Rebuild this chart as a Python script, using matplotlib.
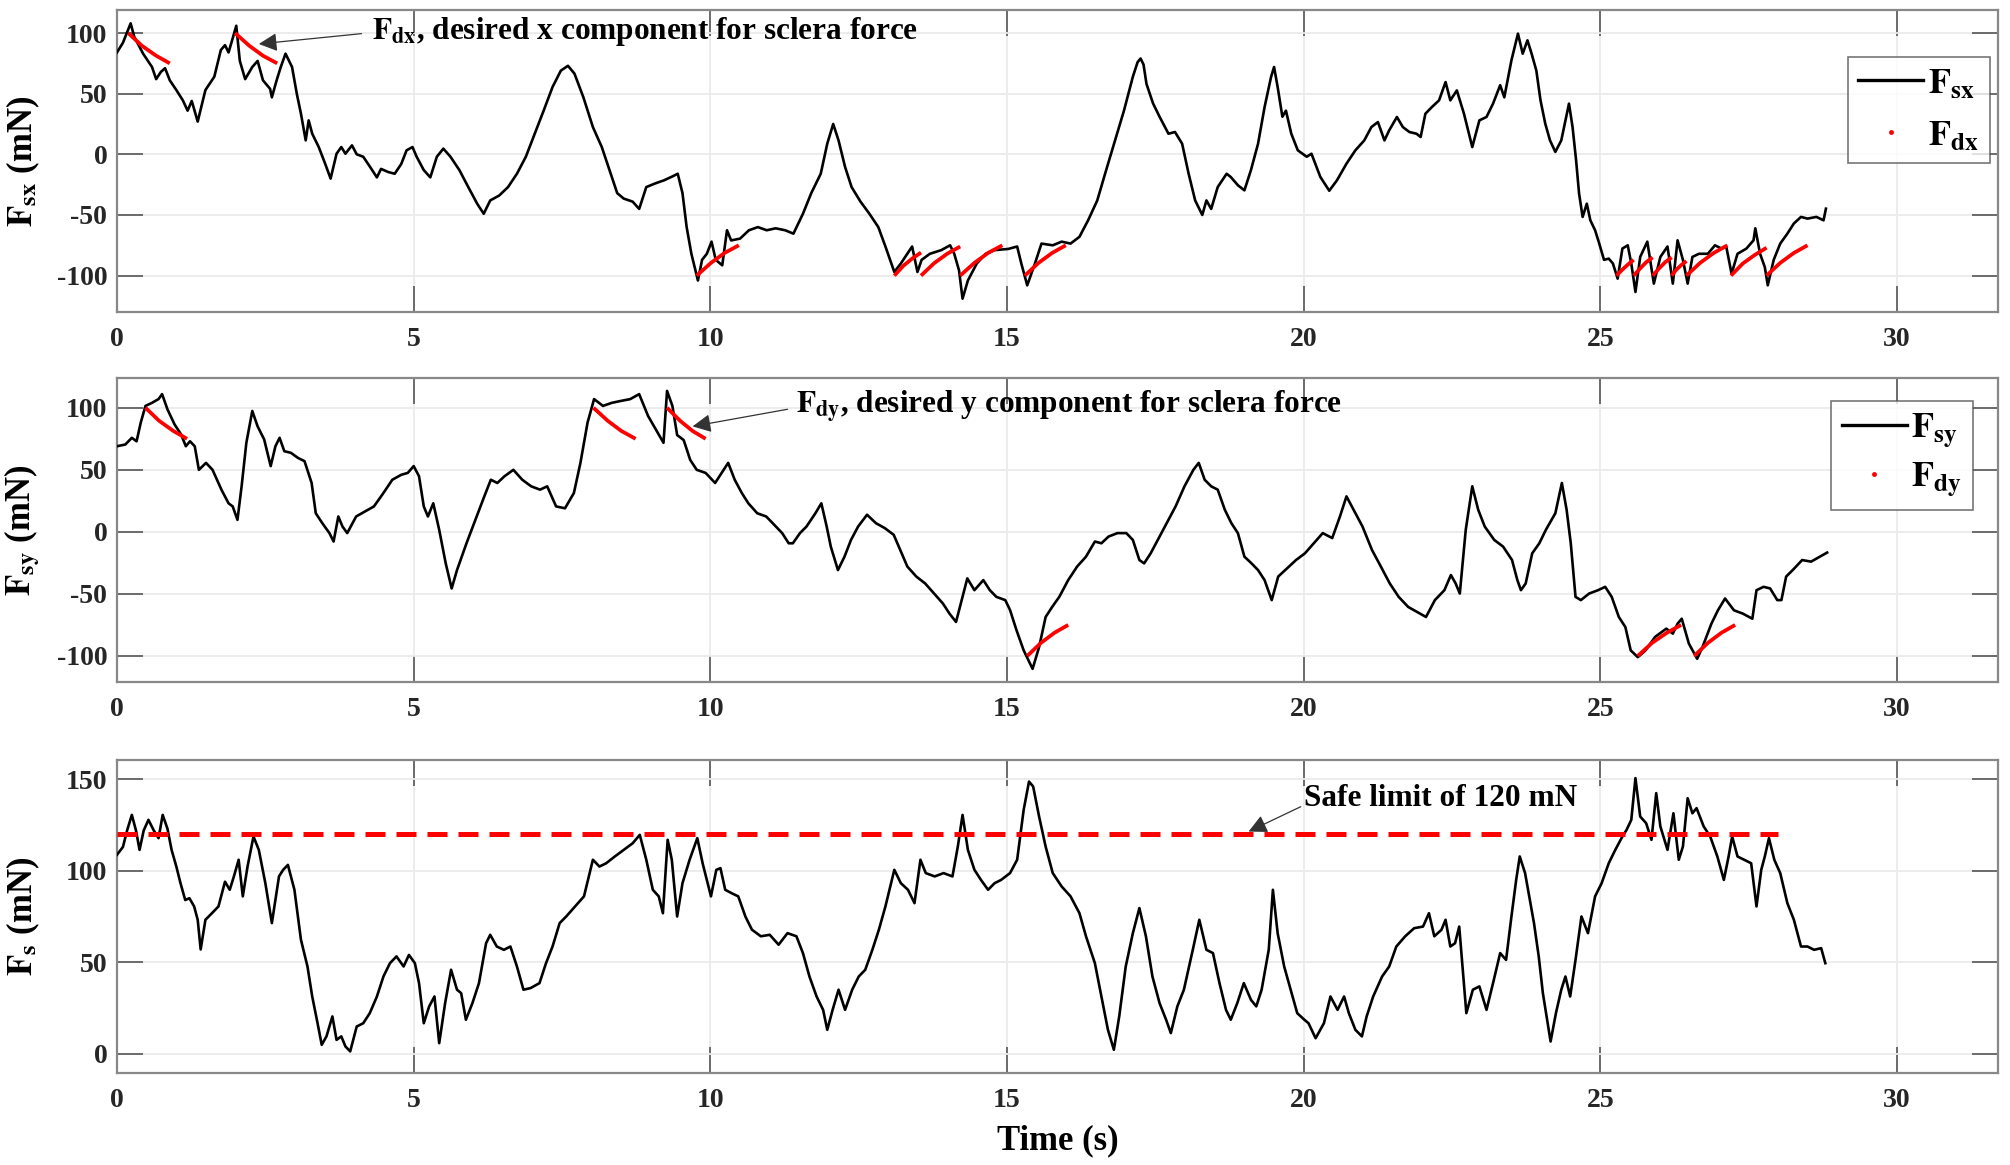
import matplotlib
matplotlib.use("Agg")
import matplotlib.pyplot as plt
from matplotlib.lines import Line2D
from matplotlib.ticker import FuncFormatter

plt.rcParams['font.family'] = ['Liberation Serif', 'DejaVu Serif']
plt.rcParams['font.weight'] = 'bold'
plt.rcParams['mathtext.fontset'] = 'stix'

# ---------------- data ----------------
t_sx = [0.0, 0.10, 0.23, 0.29, 0.44, 0.59, 0.66, 0.74, 0.81, 0.89, 1.0, 1.11, 1.19, 1.26, 1.36, 1.49, 1.64, 1.75,
        1.82, 1.88, 1.94, 2.01, 2.07, 2.16, 2.28, 2.37, 2.46, 2.58, 2.61, 2.69, 2.76, 2.84, 2.95, 3.03, 3.1, 3.18,
        3.23, 3.29, 3.4, 3.51, 3.6, 3.7, 3.78, 3.85, 3.96, 4.04, 4.15, 4.26, 4.38, 4.45, 4.57, 4.68, 4.79, 4.88,
        4.98, 5.05, 5.17, 5.28, 5.39, 5.5, 5.62, 5.77, 5.92, 6.07, 6.18, 6.29, 6.44, 6.59, 6.74, 6.89, 7.04, 7.19,
        7.34, 7.48, 7.6, 7.71, 7.86, 8.02, 8.17, 8.32, 8.43, 8.54, 8.69, 8.8, 8.92, 9.07, 9.22, 9.37, 9.45, 9.53,
        9.6, 9.68, 9.79, 9.86, 9.94, 10.02, 10.09, 10.2, 10.28, 10.35, 10.5, 10.65, 10.8, 10.95, 11.1, 11.26, 11.4,
        11.56, 11.7, 11.86, 11.97, 12.07, 12.16, 12.27, 12.38, 12.53, 12.68, 12.83, 12.95, 13.1, 13.21, 13.4,
        13.49, 13.56, 13.7, 13.89, 14.04, 14.11, 14.19, 14.25, 14.34, 14.49, 14.64, 14.79, 15.02, 15.17, 15.24,
        15.34, 15.47, 15.58, 15.77, 15.92, 16.07, 16.22, 16.37, 16.52, 16.67, 16.82, 16.97, 17.12, 17.2, 17.25,
        17.3, 17.35, 17.46, 17.57, 17.72, 17.83, 17.95, 18.06, 18.17, 18.29, 18.36, 18.44, 18.55, 18.7, 18.77,
        18.89, 19.0, 19.11, 19.23, 19.34, 19.45, 19.5, 19.56, 19.64, 19.7, 19.79, 19.9, 20.05, 20.13, 20.28,
        20.43, 20.56, 20.72, 20.87, 21.02, 21.14, 21.25, 21.36, 21.44, 21.57, 21.67, 21.78, 21.9, 21.97, 22.05,
        22.16, 22.28, 22.39, 22.47, 22.58, 22.7, 22.84, 22.96, 23.08, 23.19, 23.31, 23.38, 23.5, 23.61, 23.69,
        23.77, 23.84, 23.92, 23.99, 24.07, 24.15, 24.24, 24.34, 24.41, 24.47, 24.53, 24.59, 24.64, 24.7, 24.77,
        24.83, 24.91, 24.98, 25.06, 25.14, 25.21, 25.29, 25.37, 25.46, 25.52, 25.59, 25.67, 25.79, 25.9, 26.01,
        26.13, 26.22, 26.3, 26.39, 26.47, 26.55, 26.66, 26.81, 26.93, 27.04, 27.12, 27.21, 27.31, 27.46, 27.58,
        27.61, 27.69, 27.77, 27.82, 27.92, 28.03, 28.15, 28.26, 28.38, 28.49, 28.64, 28.76, 28.8]
f_sx = [84, 92, 108, 97, 83, 72, 62, 68, 71, 61, 53, 44.5, 36, 44, 27, 53, 64, 86,
        90, 84, 94, 106, 77, 62, 72, 77, 61, 54, 47, 61, 72, 83, 72, 50, 33.5, 11.5,
        28, 17, 6, -8, -20, 0.5, 6, 0.5, 7.4, 0, -2, -10, -19, -12, -14.6, -16, -8, 3.3,
        6, -2, -13, -19, -2, 4.7, -2, -13, -27, -40.7, -49, -38, -34, -27, -16, -2, 17, 36,
        55.5, 69, 73, 66.5, 47, 22.5, 6, -16, -32, -36.5, -39, -45, -27, -24, -21.4, -18, -16, -32,
        -60, -82, -104, -87, -82, -72, -87, -91.5, -62.6, -71, -69.5, -62.6, -60, -62.6, -61, -62.6, -65.4,
        -49, -32, -16, 8.8, 25, 11.5, -10.4, -27, -39, -49, -60, -76, -97, -90, -76,
        -97, -87, -82, -79, -75, -82, -95.6, -119, -104, -90, -82, -79, -78, -76, -90,
        -108, -90, -73.6, -75, -72, -73.6, -68, -54, -38, -13, 11.5, 36, 64, 76, 79,
        74, 58, 42, 31, 17, 18.4, 8.8, -16, -38, -50, -38, -45, -27, -16, -18.7,
        -25.5, -29.7, -13, 8.8, 39, 64, 72, 55.5, 31, 36, 17, 3.3, -2, 0.5, -18.7,
        -30, -21.4, -7.7, 3.3, 11.5, 22.5, 26.6, 11.5, 19.8, 30.8, 22.5, 18.4, 17, 14.3, 33.5,
        39, 44.5, 59.6, 44.5, 52.7, 33.5, 6, 28, 30.8, 41.8, 57, 47, 77.5, 99.5, 83,
        94, 83, 69, 44.5, 25.3, 11.5, 2, 11.5, 28, 41.8, 22.5, -5, -32.4, -51.6, -40.7,
        -54.4, -62.6, -73.6, -87, -86, -90, -102.5, -77.7, -75, -90, -113.5, -84.6, -72, -106.6, -84.6,
        -76, -106.6, -70.9, -87, -106.6, -84.6, -82, -82, -75, -77.7, -76, -98.4, -82, -77.7, -70.9,
        -61, -82, -93, -108, -87, -73.6, -65.4, -57, -51.6, -53, -51.6, -54.4, -44.8]

t_sy = [0, 0.14, 0.25, 0.33, 0.4, 0.48, 0.59, 0.7, 0.76, 0.85, 0.97, 1.08, 1.16, 1.23, 1.31, 1.38, 1.5, 1.61,
        1.76, 1.88, 1.95, 2.03, 2.1, 2.18, 2.28, 2.37, 2.48, 2.59, 2.67, 2.74, 2.82, 2.93, 3.05, 3.16, 3.28,
        3.35, 3.46, 3.58, 3.65, 3.73, 3.8, 3.88, 4.03, 4.18, 4.33, 4.49, 4.64, 4.79, 4.9, 5.0, 5.09, 5.17,
        5.24, 5.33, 5.43, 5.54, 5.64, 5.73, 5.89, 6.04, 6.19, 6.3, 6.41, 6.53, 6.68, 6.83, 6.98, 7.13, 7.25,
        7.4, 7.55, 7.7, 7.81, 7.93, 8.04, 8.19, 8.34, 8.49, 8.65, 8.8, 8.95, 9.1, 9.21, 9.27, 9.36, 9.44,
        9.55, 9.66, 9.77, 9.92, 10.08, 10.19, 10.3, 10.41, 10.53, 10.64, 10.79, 10.94, 11.05, 11.21, 11.32,
        11.39, 11.51, 11.62, 11.77, 11.87, 11.96, 12.03, 12.15, 12.26, 12.37, 12.49, 12.64, 12.79, 12.94,
        13.09, 13.2, 13.32, 13.47, 13.62, 13.77, 13.92, 14.03, 14.14, 14.22, 14.33, 14.45, 14.6, 14.71,
        14.82, 14.97, 15.05, 15.16, 15.28, 15.43, 15.54, 15.65, 15.76, 15.88, 16.03, 16.18, 16.33, 16.48,
        16.59, 16.71, 16.86, 17.01, 17.12, 17.23, 17.31, 17.42, 17.54, 17.69, 17.84, 17.99, 18.14, 18.23,
        18.33, 18.44, 18.55, 18.67, 18.78, 18.89, 19.0, 19.12, 19.23, 19.34, 19.46, 19.57, 19.72, 19.87,
        20.02, 20.17, 20.32, 20.48, 20.61, 20.72, 20.84, 20.99, 21.15, 21.3, 21.45, 21.6, 21.76, 21.91,
        22.06, 22.21, 22.37, 22.48, 22.56, 22.63, 22.73, 22.84, 22.94, 23.05, 23.21, 23.36, 23.51, 23.6,
        23.66, 23.74, 23.85, 23.97, 24.08, 24.24, 24.35, 24.43, 24.5, 24.58, 24.67, 24.81, 24.96, 25.08,
        25.19, 25.31, 25.42, 25.51, 25.63, 25.76, 25.92, 26.11, 26.22, 26.3, 26.37, 26.49, 26.63, 26.72,
        26.87, 26.98, 27.1, 27.25, 27.4, 27.56, 27.63, 27.75, 27.86, 27.98, 28.05, 28.13, 28.24, 28.4,
        28.55, 28.7, 28.82]
f_sy = [69, 70.4, 75.8, 73, 88, 101.5, 104, 107, 111, 98.8, 86.6, 78.5, 69, 73, 69, 50, 55.6, 50,
        34, 23, 20.5, 9.7, 36.7, 71.8, 97.4, 85, 74.5, 53, 69, 75.8, 65, 63.7, 59.6, 57, 39.4,
        15, 7, -1, -7.8, 12.4, 4.3, -1, 12.4, 16.5, 20.5, 31.3, 42, 46, 47.5, 53, 44.8, 20.5,
        12.4, 23, 1.6, -25.4, -45.6, -30.8, -9.2, 9.7, 28.6, 42, 39.4, 44.8, 50, 42, 36.7, 34, 36.7,
        20.5, 19, 31.3, 55.6, 88, 107, 101.5, 104, 105.5, 107, 111, 93.4, 81, 71.8, 113.6, 101.5, 78,
        74, 58, 50, 47.5, 39.4, 47.5, 55.6, 42, 31.3, 23, 15, 12.4, 7, -1, -9.2,
        -9.2, -1, 4.3, 15, 23, 4.3, -12, -30.8, -20, -6.5, 4.3, 13.8, 7, 3,
        -2.4, -14.6, -28, -36, -41.6, -49.7, -57.8, -65.9, -72.6, -57.8, -37.5, -47, -38.9, -47,
        -52.4, -55, -63, -79.4, -95.5, -110.4, -92.8, -68.6, -60.5, -52.4, -38.9, -28, -20, -7.8,
        -9.2, -3.8, -1, -1, -6.5, -22.7, -25.4, -17.3, -6.5, 7, 20.5, 36.7, 50, 55.6,
        42, 36.7, 34, 17.8, 7, -1, -20, -25.4, -30.8, -38.9, -55, -36, -29.4, -22.7,
        -17.3, -9.2, -1, -5, 12.4, 28.6, 17.8, 4.3, -14.6, -28, -41.6, -52.4, -60.5, -64.5,
        -68.6, -55, -47, -34.8, -41.6, -49.7, 1.6, 36.7, 17.8, 4.3, -6.5, -11.9, -22.7, -38.9,
        -47, -41.6, -17.3, -9.2, 1.6, 15, 39.4, 17.8, -9.2, -52.4, -55, -49.7, -47, -44.3,
        -52.4, -68.6, -76.7, -95.5, -101, -95.5, -84.7, -78, -82, -74, -70, -90, -102.3, -92.8,
        -74, -63.2, -53.7, -63.2, -65.9, -70, -47, -44.3, -45.6, -55, -55, -36, -30.8, -22.7,
        -24, -20, -16.7]

t_s = [0, 0.1, 0.17, 0.25, 0.32, 0.38, 0.45, 0.53, 0.62, 0.7, 0.77, 0.85, 0.92, 1.0, 1.07, 1.15, 1.22, 1.3,
       1.36, 1.41, 1.49, 1.6, 1.71, 1.82, 1.9, 1.97, 2.05, 2.12, 2.2, 2.3, 2.39, 2.5, 2.61, 2.73, 2.8, 2.88,
       2.99, 3.1, 3.21, 3.29, 3.38, 3.45, 3.53, 3.63, 3.7, 3.78, 3.85, 3.93, 4.04, 4.15, 4.26, 4.38, 4.49,
       4.6, 4.71, 4.83, 4.92, 5.02, 5.09, 5.17, 5.26, 5.35, 5.43, 5.53, 5.63, 5.73, 5.8, 5.88, 5.99, 6.1,
       6.22, 6.29, 6.4, 6.52, 6.63, 6.74, 6.85, 6.97, 7.12, 7.23, 7.34, 7.46, 7.57, 7.72, 7.87, 8.02, 8.13,
       8.24, 8.39, 8.54, 8.69, 8.81, 8.92, 9.03, 9.13, 9.2, 9.28, 9.35, 9.44, 9.53, 9.65, 9.78, 9.87, 10.01,
       10.1, 10.17, 10.25, 10.36, 10.47, 10.59, 10.7, 10.85, 11.0, 11.15, 11.3, 11.45, 11.56, 11.67, 11.79,
       11.9, 11.97, 12.06, 12.16, 12.27, 12.39, 12.5, 12.61, 12.73, 12.84, 12.95, 13.1, 13.21, 13.33, 13.44,
       13.54, 13.63, 13.78, 13.93, 14.08, 14.17, 14.25, 14.34, 14.45, 14.56, 14.68, 14.79, 14.9, 15.05,
       15.17, 15.28, 15.37, 15.44, 15.54, 15.65, 15.77, 15.92, 16.07, 16.22, 16.33, 16.48, 16.59, 16.7,
       16.8, 16.89, 17.0, 17.12, 17.23, 17.34, 17.45, 17.57, 17.68, 17.76, 17.87, 17.98, 18.13, 18.24,
       18.36, 18.47, 18.58, 18.69, 18.77, 18.88, 18.99, 19.11, 19.2, 19.29, 19.41, 19.48, 19.56, 19.67,
       19.78, 19.89, 20.01, 20.08, 20.2, 20.34, 20.45, 20.57, 20.68, 20.76, 20.87, 20.98, 21.06, 21.17,
       21.32, 21.44, 21.56, 21.71, 21.86, 22.01, 22.11, 22.2, 22.32, 22.39, 22.47, 22.55, 22.62, 22.74,
       22.85, 22.96, 23.08, 23.19, 23.31, 23.41, 23.5, 23.58, 23.64, 23.73, 23.8, 23.88, 23.96, 24.03,
       24.11, 24.16, 24.25, 24.34, 24.41, 24.49, 24.58, 24.68, 24.79, 24.91, 25.02, 25.14, 25.25, 25.37,
       25.44, 25.52, 25.59, 25.67, 25.77, 25.86, 25.94, 26.01, 26.13, 26.23, 26.32, 26.39, 26.47, 26.55,
       26.62, 26.74, 26.85, 26.97, 27.08, 27.16, 27.22, 27.31, 27.42, 27.54, 27.63, 27.71, 27.77, 27.84,
       27.93, 28.03, 28.15, 28.26, 28.38, 28.49, 28.6, 28.72, 28.79]
f_s = [108.7, 113, 122, 130.5, 122, 111.4, 122, 127.8, 122, 117.8, 130.5, 123, 111.4, 102.3, 93.2, 84, 85, 80.5,
       73.2, 57, 73.2, 76.8, 80.5, 94, 89.6, 96.9, 106, 86, 102.3, 118.7, 111.4, 93.2, 71.4, 96.9, 100.5, 103.2,
       89.6, 62.3, 47.7, 31.3, 16.7, 4.9, 9.5, 20.4, 7.6, 9.5, 4, 1.3, 14.9, 16.7, 22.2, 31.3, 42.2,
       49.5, 53.2, 47.7, 54, 49.5, 38.6, 16.7, 25.8, 31.3, 5.8, 27.7, 45.9, 35, 33.1, 18.6, 27.7, 38.6,
       60.4, 65, 58.6, 56.8, 58.6, 47.7, 35, 35.9, 38.6, 49.5, 58.6, 71.4, 75, 80.5, 86, 106, 102.3,
       104, 107.8, 111.4, 115, 119.6, 106, 89.6, 86, 76.8, 116.9, 106, 75, 93.2, 106, 117.8, 104, 86,
       100.5, 101.4, 89.6, 87.7, 86, 75, 67.8, 64.2, 65, 59.6, 65.9, 64.2, 55, 42.2, 31.3,
       24, 13.1, 24, 35, 24, 35, 42.2, 45.9, 56.8, 67.8, 80.5, 100.5, 93.2, 89.6, 82.3,
       106, 98.7, 96.9, 98.7, 96.9, 113.2, 130.5, 111.4, 100.5, 95, 89.6, 93.2, 95, 98.7,
       106, 133.3, 148.7, 146, 129.6, 113.2, 98.7, 91.4, 86, 76.8, 64.2, 49.5, 31.3, 13.1,
       2.2, 20.4, 47.7, 65.9, 79.6, 64.2, 42.2, 27.7, 18.6, 11.3, 25.9, 35, 56.8, 73.2,
       56.8, 55, 38.6, 24, 18.6, 27.7, 38.6, 29.5, 25.9, 35, 56.8, 89.6, 65.9, 47.7,
       35, 22.2, 18.6, 16.7, 8.5, 16.7, 31.3, 24, 31.3, 22.2, 13.1, 9.5, 20.4, 31.3,
       42.2, 47.7, 58.6, 64.2, 68.6, 69.5, 76.8, 64.2, 67.7, 73.2, 58.6, 60.4, 69.5, 22.2,
       35, 36.8, 24, 38.6, 55, 51.3, 75, 95, 107.8, 98.7, 86, 71.4, 53.2, 33.1,
       16.7, 6.7, 22.2, 35, 42.2, 31.3, 51.3, 75, 65.9, 86, 93.2, 104.1, 111.4, 118.7,
       122.3, 127.8, 150.6, 129.6, 126, 116.9, 142.4, 124.2, 111.4, 131.4, 106, 113.2, 139.6, 131.4,
       134.2, 124.2, 118.7, 107.8, 95, 107.8, 118.7, 107.8, 106, 104.1, 80.5, 100.5, 107.8, 117.8,
       106, 98.7, 82.3, 73.2, 58.6, 58.6, 56.8, 57.7, 49.5]

# desired force segments (red)
fdx_t = [[0.19, 0.42, 0.66, 0.89], [1.99, 2.23, 2.46, 2.70], [9.77, 10.01, 10.24, 10.48],
         [13.10, 13.25, 13.40, 13.55], [13.55, 13.77, 13.99, 14.21], [14.21, 14.45, 14.68, 14.92],
         [15.30, 15.53, 15.76, 15.99], [25.27, 25.37, 25.46, 25.56], [25.56, 25.67, 25.77, 25.88],
         [25.88, 25.99, 26.09, 26.20], [26.20, 26.28, 26.37, 26.45], [26.45, 26.68, 26.91, 27.14],
         [27.20, 27.40, 27.60, 27.80], [27.80, 28.03, 28.26, 28.49]]
fdx_v = [[100, 89.5, 81.3, 75], [100, 89.5, 81.3, 75], [-100, -89.5, -81.3, -75],
         [-100, -92, -86, -81], [-100, -89.8, -82, -76], [-100, -89.5, -81.3, -75],
         [-100, -89.5, -81.3, -75], [-100, -95, -91, -87], [-100, -94, -89, -85],
         [-100, -94, -89, -85], [-100, -95, -91, -88], [-100, -89.5, -81.3, -75],
         [-100, -90, -83, -77], [-100, -89.5, -81.3, -75]]
fdy_t = [[0.48, 0.71, 0.95, 1.18], [8.03, 8.27, 8.50, 8.74], [9.27, 9.49, 9.70, 9.92],
         [15.34, 15.57, 15.80, 16.03], [25.63, 25.87, 26.12, 26.36], [26.58, 26.81, 27.04, 27.27]]
fdy_v = [[100, 89.5, 81.3, 75], [100, 89.5, 81.3, 75], [100, 89.5, 81.3, 75],
         [-100, -89.5, -81.3, -75], [-100, -89.5, -81.3, -75], [-100, -89.5, -81.3, -75]]

safe_limit = 120
safe_t = [0, 28.0]

x_ticks = [0, 5, 10, 15, 20, 25, 30]
ylim_sx = (-130, 119)
ylim_sy = (-121, 124)
ylim_s = (-10.5, 160.5)
yticks_sx = [-100, -50, 0, 50, 100]
yticks_sy = [-100, -50, 0, 50, 100]
yticks_s = [0, 50, 100, 150]

# ---------------- figure ----------------
W, H = 2010, 1165
fig = plt.figure(figsize=(W / 100, H / 100), dpi=100)
L = 117 / W
AW = (1998 - 117) / W
ax1 = fig.add_axes([L, 1 - 312 / H, AW, 302 / H])
ax2 = fig.add_axes([L, 1 - 682 / H, AW, 304 / H])
ax3 = fig.add_axes([L, 1 - 1073 / H, AW, 313 / H])

TICK_FS = 20
LAB_FS = 25
ANN_FS = 22.5
LEG_FS = 26
LW = 1.9


def style(ax, ylim, yticks):
    ax.set_xlim(0, 31.7)
    ax.set_ylim(*ylim)
    ax.set_xticks(x_ticks)
    ax.set_yticks(yticks)
    ax.grid(True, color='#ebebeb', lw=1.3)
    ax.set_axisbelow(True)
    ax.tick_params(direction='in', length=19, width=1.2, top=True, right=True,
                   color='#555555', labelsize=TICK_FS, pad=7)
    ax.tick_params(axis='x', pad=11)
    for sp in ax.spines.values():
        sp.set_color('#888888')
        sp.set_linewidth(1.6)
    for lbl in ax.get_xticklabels() + ax.get_yticklabels():
        lbl.set_fontweight('bold')
        lbl.set_color('#262626')


def yformat(v, pos):
    return '%d' % v if v >= 0 else '-%d' % (-v)


def legend(ax, labels, anchor, spacing):
    h = [Line2D([], [], color='black', lw=2.4),
         Line2D([], [], color='red', ls='none', marker='.', markersize=5)]
    leg = ax.legend(h, labels, loc='upper right', bbox_to_anchor=anchor, fontsize=LEG_FS,
                    frameon=True, fancybox=False, edgecolor='#555555', borderaxespad=0,
                    handlelength=1.8, handletextpad=0.12, borderpad=0.3, labelspacing=spacing)
    leg.get_frame().set_linewidth(1.2)
    return leg


def arrow(ax, head, tail):
    ax.annotate('', xy=head, xytext=tail,
                arrowprops=dict(arrowstyle='-|>', color='#333333', lw=0.9, mutation_scale=28,
                                shrinkA=0, shrinkB=0))


# panel 1
ax1.plot(t_sx, f_sx, color='black', lw=LW, zorder=3)
for tt, vv in zip(fdx_t, fdx_v):
    ax1.plot(tt, vv, color='#ff0000', lw=2.7, zorder=4, solid_capstyle='butt')
style(ax1, ylim_sx, yticks_sx)
ax1.yaxis.set_major_formatter(FuncFormatter(yformat))
ax1.set_ylabel(r'$\mathbf{F}_{\mathbf{sx}}$ (mN)', fontsize=LAB_FS, fontweight='bold')
ax1.yaxis.set_label_coords(-0.040, 0.5)
arrow(ax1, (2.39, 91), (4.12, 99.5))
ax1.text(4.3, 101, r'$\mathbf{F}_{\mathbf{dx}}$, desired x component for sclera force',
         fontsize=ANN_FS, fontweight='bold', va='center', ha='left')
legend(ax1, [r'$\mathbf{F}_{\mathbf{sx}}$', r'$\mathbf{F}_{\mathbf{dx}}$'], (0.9955, 0.8444), 0.5)

# panel 2
ax2.plot(t_sy, f_sy, color='black', lw=LW, zorder=3)
for tt, vv in zip(fdy_t, fdy_v):
    ax2.plot(tt, vv, color='#ff0000', lw=2.7, zorder=4, solid_capstyle='butt')
style(ax2, ylim_sy, yticks_sy)
ax2.yaxis.set_major_formatter(FuncFormatter(yformat))
ax2.set_ylabel(r'$\mathbf{F}_{\mathbf{sy}}$ (mN)', fontsize=LAB_FS, fontweight='bold')
ax2.yaxis.set_label_coords(-0.040, 0.5)
arrow(ax2, (9.7, 85), (11.3, 98.8))
ax2.text(11.45, 101, r'$\mathbf{F}_{\mathbf{dy}}$, desired y component for sclera force',
         fontsize=ANN_FS, fontweight='bold', va='center', ha='left')
legend(ax2, [r'$\mathbf{F}_{\mathbf{sy}}$', r'$\mathbf{F}_{\mathbf{dy}}$'], (0.9865, 0.925), 0.3)

# panel 3
ax3.plot(t_s, f_s, color='black', lw=LW, zorder=3)
ax3.plot(safe_t, [safe_limit, safe_limit], color='#ff0000', lw=3.6, ls=(0, (4.0, 2.2)), zorder=4)
style(ax3, ylim_s, yticks_s)
ax3.set_ylabel(r'$\mathbf{F}_{\mathbf{s}}$ (mN)', fontsize=LAB_FS, fontweight='bold')
ax3.yaxis.set_label_coords(-0.040, 0.5)
ax3.set_xlabel('Time (s)', fontsize=LAB_FS, fontweight='bold', labelpad=8)
arrow(ax3, (19.07, 121.4), (19.95, 135))
ax3.text(20.0, 139.6, 'Safe limit of 120 mN', fontsize=ANN_FS, fontweight='bold',
         va='center', ha='left')

fig.savefig('out.png', dpi=100)
